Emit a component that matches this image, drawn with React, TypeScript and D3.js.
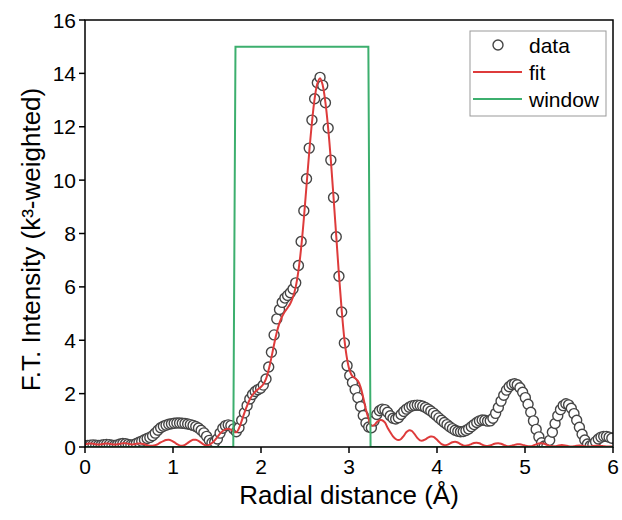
import React from "react";
import * as d3 from "d3";

// Radial grid step (Å)
const R_STEP = 0.0307;

// Measured F.T. magnitude (data circles)
const dataI: number[] = [
  0.05, 0.06, 0.07, 0.08, 0.07, 0.06, 0.07, 0.09, 0.10, 0.09,
  0.07, 0.06, 0.08, 0.11, 0.13, 0.12, 0.10, 0.08, 0.09, 0.13,
  0.18, 0.22, 0.27, 0.32, 0.36, 0.42, 0.52, 0.63, 0.72, 0.78,
  0.82, 0.85, 0.87, 0.89, 0.90, 0.90, 0.89, 0.88, 0.86, 0.84,
  0.81, 0.77, 0.71, 0.63, 0.53, 0.40, 0.25, 0.16, 0.18, 0.30,
  0.52, 0.70, 0.80, 0.83, 0.80, 0.68, 0.57, 0.72, 1.00, 1.28,
  1.55, 1.80, 1.97, 2.08, 2.15, 2.20, 2.32, 2.55, 3.00, 3.55,
  4.20, 4.80, 5.15, 5.42, 5.58, 5.68, 5.78, 5.92, 6.15, 6.80,
  7.70, 8.85, 10.05, 11.20, 12.25, 13.05, 13.65, 13.85, 13.55, 12.90,
  11.95, 10.75, 9.35, 7.88, 6.40, 5.06, 3.90, 3.05, 2.68, 2.42,
  2.15, 1.85, 1.52, 1.18, 0.90, 0.75, 0.72, 0.98, 1.22, 1.36,
  1.42, 1.40, 1.30, 1.17, 1.08, 1.05, 1.10, 1.22, 1.33, 1.42,
  1.49, 1.54, 1.56, 1.57, 1.56, 1.53, 1.48, 1.42, 1.35, 1.27,
  1.18, 1.09, 1.00, 0.92, 0.84, 0.76, 0.69, 0.63, 0.59, 0.57,
  0.58, 0.62, 0.68, 0.76, 0.84, 0.92, 0.98, 1.01, 1.00, 0.97,
  0.98, 1.08, 1.26, 1.48, 1.72, 1.94, 2.13, 2.26, 2.34, 2.37,
  2.33, 2.22, 2.05, 1.85, 1.60, 1.30, 0.98, 0.66, 0.38, 0.16,
  0.04, 0.05, 0.25, 0.55, 0.88, 1.17, 1.40, 1.55, 1.62, 1.58,
  1.45, 1.25, 1.00, 0.74, 0.48, 0.26, 0.11, 0.05, 0.09, 0.20,
  0.30, 0.37, 0.40, 0.40, 0.37, 0.33,
];

// Fitted F.T. magnitude (red line)
const fitI: number[] = [
  0.10, 0.12, 0.13, 0.12, 0.10, 0.09, 0.10, 0.12, 0.13, 0.12,
  0.10, 0.09, 0.10, 0.12, 0.14, 0.14, 0.12, 0.10, 0.10, 0.12,
  0.13, 0.12, 0.10, 0.07, 0.05, 0.05, 0.07, 0.11, 0.17, 0.22,
  0.26, 0.27, 0.24, 0.18, 0.11, 0.06, 0.05, 0.08, 0.15, 0.22,
  0.27, 0.27, 0.23, 0.16, 0.09, 0.06, 0.08, 0.15, 0.25, 0.37,
  0.50, 0.60, 0.66, 0.68, 0.65, 0.58, 0.55, 0.70, 0.98, 1.28,
  1.55, 1.78, 1.95, 2.07, 2.16, 2.24, 2.35, 2.55, 2.90, 3.35,
  3.85, 4.30, 4.65, 4.90, 5.08, 5.22, 5.38, 5.62, 6.00, 6.60,
  7.45, 8.55, 9.80, 11.05, 12.15, 13.05, 13.62, 13.82, 13.55, 12.90,
  11.95, 10.75, 9.35, 7.90, 6.45, 5.15, 4.05, 3.30, 2.85, 2.65,
  2.58, 2.48, 2.25, 1.85, 1.40, 1.05, 0.80, 0.82, 0.93, 1.00,
  1.00, 0.92, 0.72, 0.55, 0.40, 0.30, 0.26, 0.30, 0.42, 0.56,
  0.63, 0.60, 0.48, 0.34, 0.25, 0.24, 0.29, 0.35, 0.39, 0.38,
  0.30, 0.20, 0.11, 0.07, 0.08, 0.13, 0.18, 0.20, 0.17, 0.11,
  0.06, 0.05, 0.07, 0.11, 0.15, 0.16, 0.14, 0.09, 0.05, 0.04,
  0.06, 0.10, 0.13, 0.14, 0.12, 0.08, 0.04, 0.03, 0.05, 0.08,
  0.10, 0.10, 0.08, 0.05, 0.03, 0.03, 0.06, 0.10, 0.13, 0.14,
  0.12, 0.08, 0.04, 0.03, 0.03, 0.05, 0.07, 0.07, 0.05, 0.03,
  0.02, 0.03, 0.05, 0.06, 0.05, 0.03, 0.02, 0.02, 0.04, 0.05,
  0.05, 0.04, 0.03, 0.02, 0.02, 0.03,
];

// Fourier-transform window
const windowR: number[] = [0, 1.685, 1.71, 3.22, 3.245, 6];
const windowI: number[] = [0, 0, 15, 15, 0, 0];

const xTicks: number[] = [0, 1, 2, 3, 4, 5, 6];
const yTicks: number[] = [0, 2, 4, 6, 8, 10, 12, 14, 16];

const legendItems = ["data", "fit", "window"];

const W = 622;
const H = 520;
const M = { left: 85, right: 9, top: 20, bottom: 73 };
const FONT = "'Liberation Sans', Arial, Helvetica, sans-serif";
const RED = "#de3b3b";
const GREEN = "#3caf6e";
const CIRCLE = "#454545";
const CR = 5;

export default function App() {
  const x = d3.scaleLinear().domain([0, 6]).range([M.left, W - M.right]);
  const y = d3.scaleLinear().domain([0, 16]).range([H - M.bottom, M.top]);

  const dataPts = dataI.map((v, i) => [i * R_STEP, v] as [number, number]);
  const fitPts = fitI.map((v, i) => [i * R_STEP, v] as [number, number]);
  const winPts = windowR.map((r, i) => [r, windowI[i]] as [number, number]);

  const fitLine = d3
    .line<[number, number]>()
    .x((d) => x(d[0]))
    .y((d) => y(d[1]))
    .curve(d3.curveCatmullRom.alpha(0.5));
  const winLine = d3
    .line<[number, number]>()
    .x((d) => x(d[0]))
    .y((d) => y(d[1]));

  const x0 = M.left;
  const x1 = W - M.right;
  const y0 = H - M.bottom;
  const y1 = M.top;

  const legX = 470;
  const legY = 31;
  const legW = 136;
  const legH = 85;
  const rowY = [45, 72, 99];

  return (
    <svg
      width={W}
      height={H}
      style={{ position: "absolute", left: 0, top: 0, background: "#fff" }}
      fontFamily={FONT}
    >
      <rect x={0} y={0} width={W} height={H} fill="#fff" />
      <defs>
        <clipPath id="plot">
          <rect x={x0} y={y1} width={x1 - x0} height={y0 - y1} />
        </clipPath>
      </defs>

      <g clipPath="url(#plot)">
        {dataPts.map((d, i) => (
          <circle
            key={i}
            cx={x(d[0])}
            cy={y(d[1])}
            r={CR}
            fill="#fff"
            stroke={CIRCLE}
            strokeWidth={1.4}
          />
        ))}
        <path d={fitLine(fitPts) || ""} fill="none" stroke={RED} strokeWidth={2} />
        <path d={winLine(winPts) || ""} fill="none" stroke={GREEN} strokeWidth={2} />
      </g>

      {/* frame */}
      <rect x={x0} y={y1} width={x1 - x0} height={y0 - y1} fill="none" stroke="#000" strokeWidth={1.5} />

      {/* x ticks */}
      {xTicks.map((t) => (
        <g key={"x" + t}>
          <line x1={x(t)} x2={x(t)} y1={y0} y2={y0 + 6} stroke="#000" strokeWidth={1.5} />
          <text x={x(t)} y={y0 + 27} textAnchor="middle" fontSize={21} fill="#000">
            {t}
          </text>
        </g>
      ))}
      {/* y ticks */}
      {yTicks.map((t) => (
        <g key={"y" + t}>
          <line x1={x0 - 6} x2={x0} y1={y(t)} y2={y(t)} stroke="#000" strokeWidth={1.5} />
          <text x={x0 - 9} y={y(t) + 7.5} textAnchor="end" fontSize={21} fill="#000">
            {t}
          </text>
        </g>
      ))}

      <text x={(x0 + x1) / 2} y={504} textAnchor="middle" fontSize={26} fill="#000">
        Radial distance (Å)
      </text>
      <text
        transform={`translate(40, ${(y0 + y1) / 2 + 6}) rotate(-90)`}
        textAnchor="middle"
        fontSize={26}
        fill="#000"
      >
        F.T. Intensity (k³-weighted)
      </text>

      {/* legend */}
      <rect x={legX} y={legY} width={legW} height={legH} fill="#fff" stroke="#999" strokeWidth={1} />
      {legendItems.map((name, i) => (
        <g key={name}>
          {i === 0 ? (
            <circle cx={498} cy={rowY[i]} r={CR} fill="#fff" stroke={CIRCLE} strokeWidth={1.4} />
          ) : (
            <line x1={473} x2={522} y1={rowY[i]} y2={rowY[i]} stroke={i === 1 ? RED : GREEN} strokeWidth={2} />
          )}
          <text x={529} y={rowY[i] + 7.5} fontSize={21} fill="#000">
            {name}
          </text>
        </g>
      ))}
    </svg>
  );
}
